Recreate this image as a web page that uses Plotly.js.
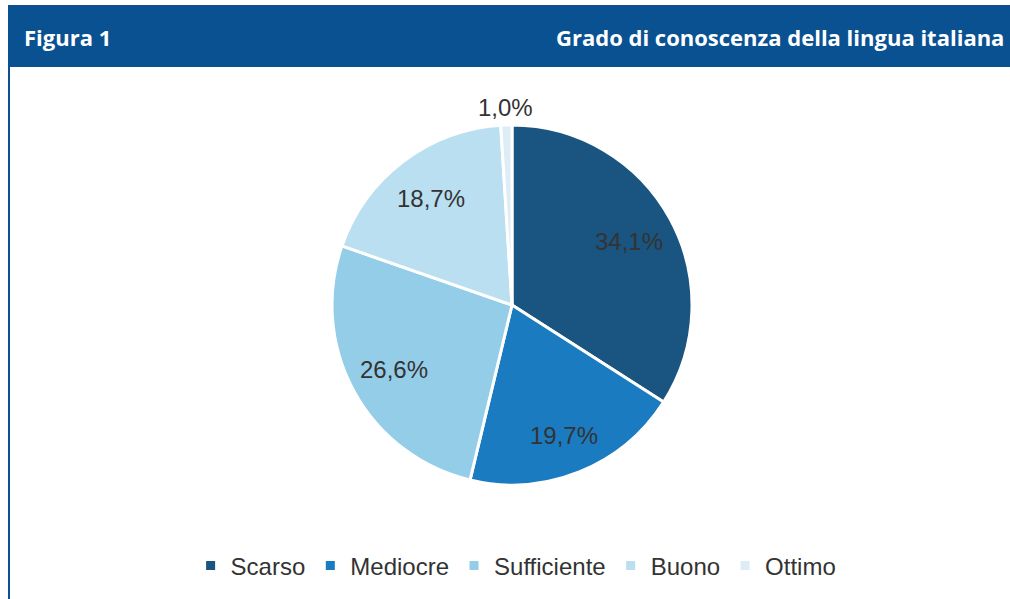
<!DOCTYPE html>
<html><head><meta charset="utf-8">
<script src="https://cdn.plot.ly/plotly-3.0.1.min.js"></script>
<style>html,body{margin:0;padding:0;background:#fff}#c{width:1010px;height:599px}</style>
</head><body><div id="c"></div>
<script>
const categories = ['Scarso','Mediocre','Sufficiente','Buono','Ottimo'];
const values = [34.1, 19.7, 26.6, 18.7, 1.0];
const colors = ['#1a5480','#1a7bc0','#94cde8','#b9dff0','#deedf5'];
const labelRadius = [0.74, 0.78, 0.75, 0.74, 1.10];
const W = 1010, H = 599;
const px = x => x / W, py = y => 1 - y / H;
const cx = 512, cy = 305, R = 180;
const labelFont = {family: 'Liberation Sans, Arial, sans-serif', size: 24, color: '#333333'};
const trace = {
  type: 'pie', labels: categories, values: values, sort: false, direction: 'clockwise', rotation: 0,
  marker: {colors: colors, line: {color: '#ffffff', width: 3}},
  textinfo: 'none',
  domain: {x: [px(cx - R), px(cx + R)], y: [py(cy + R), py(cy - R)]},
  hoverinfo: 'none'
};
// data labels placed at each slice's mid-angle
const total = values.reduce((a, b) => a + b, 0);
let cum = 0;
const labelAnns = values.map((v, i) => {
  const mid = (cum + v / 2) / total * 2 * Math.PI;
  cum += v;
  const r = R * labelRadius[i];
  return {xref: 'paper', yref: 'paper', x: px(cx + r * Math.sin(mid)), y: py(cy - r * Math.cos(mid)),
    xanchor: 'center', yanchor: 'middle', showarrow: false,
    text: v.toFixed(1).replace('.', ',') + '%', font: labelFont};
});
const layout = {
  width: W, height: H, margin: {l: 0, r: 0, t: 0, b: 0},
  paper_bgcolor: '#ffffff', plot_bgcolor: '#ffffff',
  separators: ',.',
  showlegend: true,
  legend: {orientation: 'h', x: 0.511, xanchor: 'center', y: py(566), yanchor: 'middle',
    font: {family: 'Liberation Sans, Arial, sans-serif', size: 24, color: '#333333'},
    itemwidth: 30, tracegroupgap: 0, itemclick: false},
  shapes: [
    {type: 'rect', xref: 'paper', yref: 'paper', x0: px(8), x1: 1, y0: py(67), y1: py(5), fillcolor: '#0a5192', line: {width: 0}, layer: 'below'},
    {type: 'line', xref: 'paper', yref: 'paper', x0: px(9), x1: px(9), y0: 0, y1: py(67), line: {color: '#0a5192', width: 2}}
  ],
  annotations: [
    {xref: 'paper', yref: 'paper', x: px(22), y: py(37), xanchor: 'left', yanchor: 'middle', showarrow: false,
     text: '<b>Figura 1</b>', font: {family: 'Open Sans, sans-serif', size: 22, color: '#ffffff'}},
    {xref: 'paper', yref: 'paper', x: px(1006), y: py(37), xanchor: 'right', yanchor: 'middle', showarrow: false,
     text: '<b>Grado di conoscenza della lingua italiana</b>', font: {family: 'Open Sans, sans-serif', size: 22, color: '#ffffff'}}
  ].concat(labelAnns)
};
Plotly.newPlot('c', [trace], layout, {displayModeBar: false, staticPlot: true});
</script></body></html>
